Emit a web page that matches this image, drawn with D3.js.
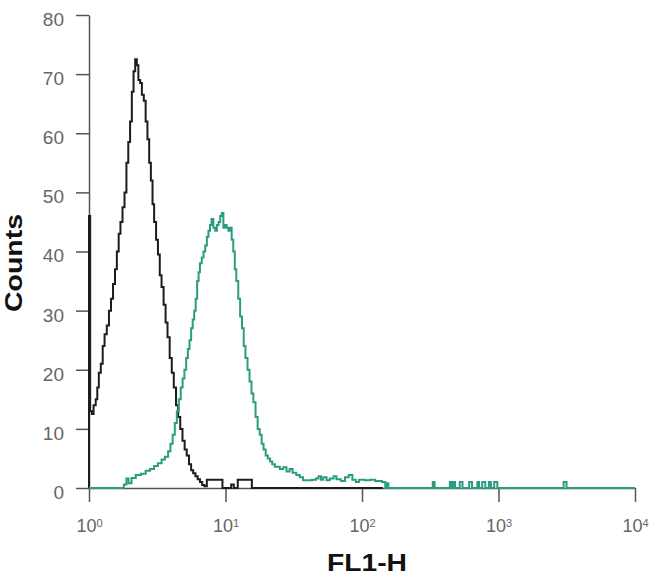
<!DOCTYPE html>
<meta charset="utf-8">
<style>
body { margin: 0; background: #fff; }
.axis text { font-family: Arial, "Liberation Sans", sans-serif; fill: #666; }
.axis line, .axis path { fill: none; stroke: #555; stroke-width: 1.5px; }
.title { font-family: Arial, "Liberation Sans", sans-serif; font-weight: bold; fill: #111; }
</style>
<body>
<script src="https://cdn.jsdelivr.net/npm/d3@7"></script>
<script>

// FL1-H value, count (step histogram)
var isotypeX = [1.00, 1.02, 1.05, 1.08, 1.12, 1.15, 1.18, 1.22, 1.26, 1.30, 1.35, 1.40, 1.45, 1.50, 1.55, 1.60, 1.65, 1.70, 1.76, 1.82, 1.88, 1.94, 2.00, 2.06, 2.12, 2.18, 2.24, 2.30, 2.37, 2.44, 2.52, 2.60, 2.68, 2.76, 2.84, 2.92, 3.00, 3.10, 3.20, 3.30, 3.40, 3.52, 3.64, 3.76, 3.90, 4.04, 4.18, 4.34, 4.50, 4.66, 4.84, 5.02, 5.20, 5.40, 5.60, 5.80, 6.02, 6.25, 6.50, 6.75, 7.00, 7.30, 9.50, 11.0, 11.5, 12.3, 15.6, 142];
var isotypeY = [46, 13, 12.5, 14, 15, 17, 19.5, 21, 24, 26, 27.5, 30, 32, 34.5, 37, 40, 43, 45, 47.5, 50, 55, 58.5, 62, 67, 70.5, 72.5, 71.5, 69, 68.5, 66.5, 65.5, 62, 59, 55, 52, 48, 45, 42, 39.5, 36, 34, 31, 28, 25.5, 22, 19.5, 17, 14, 12, 10, 8, 6.5, 5.5, 4, 3, 2.5, 2, 1.5, 1, 0.5, 0.3, 1.4, 0, 0.6, 0, 1.4, 0, 0];

var antibodyX = [1.00, 1.80, 1.88, 1.95, 2.05, 2.2, 2.4, 2.6, 2.8, 3.0, 3.2, 3.4, 3.6, 3.8, 3.95, 4.1, 4.25, 4.4, 4.55, 4.7, 4.85, 5.0, 5.15, 5.3, 5.45, 5.6, 5.75, 5.9, 6.05, 6.2, 6.35, 6.5, 6.7, 6.9, 7.1, 7.3, 7.5, 7.7, 7.9, 8.15, 8.4, 8.65, 8.9, 9.15, 9.4, 9.65, 9.9, 10.2, 10.5, 10.8, 11.1, 11.4, 11.7, 12.0, 12.4, 12.8, 13.2, 13.6, 14.0, 14.5, 15.0, 15.5, 16.0, 16.6, 17.2, 17.8, 18.4, 19.0, 19.7, 20.4, 21.2, 22, 23, 24, 25, 26.5, 28, 29.5, 31, 33, 35, 37, 40, 43, 46, 48, 50, 52, 55, 58, 62, 65, 70, 75, 80, 85, 90, 95, 105, 115, 125, 140, 148, 152, 156, 330, 340, 440, 455, 465, 480, 520, 545, 610, 640, 700, 720, 760, 800, 850, 880, 930, 980, 3000, 3150, 10000];
var antibodyY = [0, 0.6, 1.6, 0.8, 1.7, 2.2, 2.4, 2.9, 3.2, 3.7, 4.2, 4.8, 5.3, 6.2, 7.5, 9, 11, 13, 15, 17, 18.5, 20, 22, 23.5, 25, 27, 28.5, 30, 32, 35, 36.5, 38, 39, 40, 41, 42.5, 43.5, 44.5, 45.5, 44, 43.5, 44.5, 45, 46, 46.5, 44, 44.5, 44, 43.5, 44, 42, 40, 37, 35, 32, 29, 27, 24, 22, 20, 18, 16, 14.5, 12, 10, 9, 7.5, 6.5, 5.5, 5, 4.5, 4, 3.6, 3.6, 3.2, 3.5, 2.8, 3.2, 2.6, 2.2, 1.8, 1.3, 1.3, 1.4, 1.6, 2.0, 1.4, 1.8, 1.3, 1.6, 2.0, 1.5, 1.2, 1.8, 2.2, 1.4, 1.0, 1.4, 1.3, 1.4, 1.2, 1.0, 0, 0.8, 0, 1, 0, 1, 0, 1, 0, 1, 0, 1, 0, 1, 0, 1, 0, 1, 0, 1, 0, 1, 0, 0];

var yTicks = [0, 10, 20, 30, 40, 50, 60, 70, 80];
var xTicks = [1, 10, 100, 1000, 10000];
var xTickExp = ["0", "1", "2", "3", "4"];

var width = 650, height = 585;

var x = d3.scaleLog().domain([1, 10000]).range([89, 635]);
var y = d3.scaleLinear().domain([0, 80]).range([488, 15]);

var svg = d3.select("body").append("svg")
    .attr("width", width)
    .attr("height", height);

var yAxis = svg.append("g")
    .attr("class", "axis")
    .attr("transform", "translate(89,0)")
    .call(d3.axisLeft(y).tickValues(yTicks).tickSize(13).tickSizeOuter(0).tickPadding(12));
yAxis.selectAll("text")
    .style("font-size", "19px")
    .attr("dy", "0.55em");

var xAxis = svg.append("g")
    .attr("class", "axis")
    .attr("transform", "translate(0,488)")
    .call(d3.axisBottom(x).tickValues(xTicks).tickSize(14).tickSizeOuter(0).tickPadding(14).tickFormat(""));
xAxis.selectAll(".tick text")
    .style("font-size", "18px")
    .attr("dy", "0.9em")
    .each(function(d, i) {
      var t = d3.select(this);
      t.append("tspan").text("10");
      t.append("tspan").attr("dy", "-0.5em").style("font-size", "11px").text(xTickExp[i]);
    });

var line = d3.line()
    .x(function(d) { return x(d[0]); })
    .y(function(d) { return y(d[1]); })
    .curve(d3.curveStepAfter);

var isotype = isotypeX.map(function(v, i) { return [v, isotypeY[i]]; });
var antibody = antibodyX.map(function(v, i) { return [v, antibodyY[i]]; });

// left edge rise of the first channel
svg.append("path")
    .attr("d", line([[1, 0]].concat(isotype)))
    .attr("fill", "none")
    .attr("stroke", "#1c1c1c")
    .attr("stroke-width", 2);

svg.append("path")
    .attr("d", line(antibody))
    .attr("fill", "none")
    .attr("stroke", "#2c9c80")
    .attr("stroke-width", 2);

svg.append("text")
    .attr("class", "title")
    .attr("transform", "translate(22,263) rotate(-90)")
    .attr("text-anchor", "middle")
    .attr("textLength", 98)
    .attr("lengthAdjust", "spacingAndGlyphs")
    .style("font-size", "24px")
    .text("Counts");

svg.append("text")
    .attr("class", "title")
    .attr("x", 327)
    .attr("y", 571)
    .attr("textLength", 80)
    .attr("lengthAdjust", "spacingAndGlyphs")
    .style("font-size", "24px")
    .text("FL1-H");

</script>
</body>
